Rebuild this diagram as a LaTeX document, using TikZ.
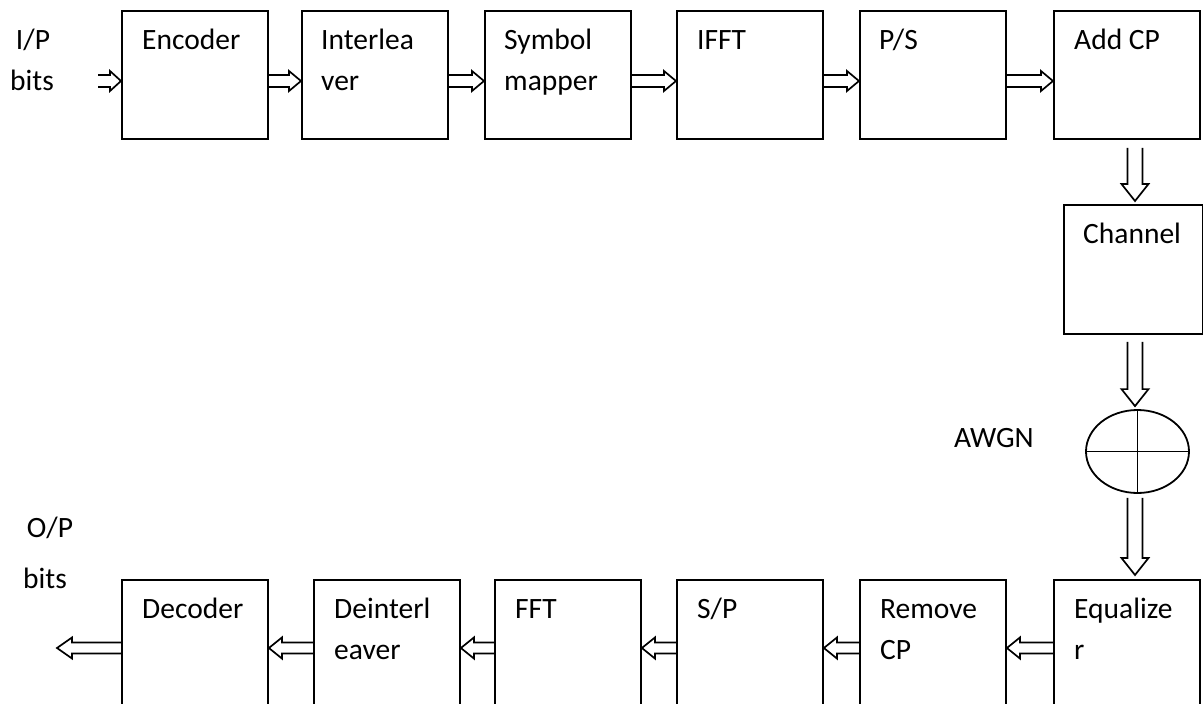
\documentclass[tikz,border=0pt]{standalone}
\usepackage{fontspec}
\setmainfont{Carlito}
\usetikzlibrary{calc,shapes.geometric}
\tikzset{
  box/.style={draw, line width=1.9pt, minimum width=146pt, minimum height=128pt, inner sep=0pt, anchor=north west},
  lbl/.style={font=\fontsize{29.5}{34}\selectfont, inner sep=0pt, anchor=base west},
  tlbl/.style={font=\fontsize{29.5}{34}\selectfont, inner sep=0pt, anchor=base},
  blk/.style={draw, line width=1.7pt, line join=miter}
}
% right-pointing hollow arrow: #1 tail, #2 tip, #3 y, #4 head length
\newcommand\rarw[4]{\draw[blk] let \p1=(#1), \p2=(#2) in
  (\x1,#3pt+6pt) -- (\x2-#4pt,#3pt+6pt) -- (\x2-#4pt,#3pt+10pt) -- (\x2,#3pt)
  -- (\x2-#4pt,#3pt-10pt) -- (\x2-#4pt,#3pt-6pt) -- (\x1,#3pt-6pt);}
% left-pointing hollow arrow
\newcommand\larw[4]{\draw[blk] let \p1=(#1), \p2=(#2) in
  (\x1,#3pt+5.5pt) -- (\x2+#4pt,#3pt+5.5pt) -- (\x2+#4pt,#3pt+10.5pt) -- (\x2,#3pt)
  -- (\x2+#4pt,#3pt-10.5pt) -- (\x2+#4pt,#3pt-5.5pt) -- (\x1,#3pt-5.5pt);}
% down-pointing hollow arrow: #1 tail, #2 tip, #3 x, #4 gap at tail, #5 gap at tip
\newcommand\darw[5]{\draw[blk] let \p1=(#1), \p2=(#2) in
  (#3pt-7.5pt,\y1-#4pt) -- (#3pt-7.5pt,\y2+#5pt+17pt) -- (#3pt-13.5pt,\y2+#5pt+17pt) -- (#3pt,\y2+#5pt)
  -- (#3pt+13.5pt,\y2+#5pt+17pt) -- (#3pt+7.5pt,\y2+#5pt+17pt) -- (#3pt+7.5pt,\y1-#4pt);}
\begin{document}
\begin{tikzpicture}[x=1pt,y=1pt]
\useasboundingbox (0,0) rectangle (1203,-704);
% top row
\node[box] (enc) at (121,-10) {};
\node[box] (int) at (301,-10) {};
\node[box] (sym) at (484,-10) {};
\node[box] (ifft) at (676,-10) {};
\node[box] (ps) at (859,-10) {};
\node[box] (acp) at (1053,-10) {};
% channel
\node[draw, line width=1.9pt, minimum width=139pt, minimum height=129pt, inner sep=0pt, anchor=north west] (chan) at (1063,-204) {};
% AWGN adder
\node[draw, ellipse, line width=1.8pt, minimum width=103pt, minimum height=83pt, inner sep=0pt] (add) at (1137.5,-451.5) {};
\draw[line width=1.8pt] (add.north) -- (add.south) (add.west) -- (add.east);
% bottom row
\node[box] (dec) at (121,-579) {};
\node[box] (dei) at (313,-579) {};
\node[box] (fft) at (494,-579) {};
\node[box] (sp) at (676,-579) {};
\node[box] (rcp) at (859,-579) {};
\node[box] (eq) at (1053,-579) {};
% labels
\node[tlbl] (ip1) at (33,-49) {I/P};
\node[tlbl] (ip2) at (32,-90) {bits};
\node[tlbl] (op1) at (50,-537) {O/P};
\node[tlbl] (op2) at (45,-588) {bits};
\node[lbl] (awgn) at (954,-447) {AWGN};
\node[lbl] at ([xshift=21pt,yshift=-39pt]enc.north west) {Encoder};
\node[lbl] at ([xshift=20pt,yshift=-39pt]int.north west) {Interlea};
\node[lbl] at ([xshift=20pt,yshift=-80pt]int.north west) {ver};
\node[lbl] at ([xshift=20pt,yshift=-39pt]sym.north west) {Symbol};
\node[lbl] at ([xshift=20pt,yshift=-80pt]sym.north west) {mapper};
\node[lbl] at ([xshift=21pt,yshift=-39pt]ifft.north west) {IFFT};
\node[lbl] at ([xshift=20pt,yshift=-39pt]ps.north west) {P/S};
\node[lbl] at ([xshift=21pt,yshift=-39pt]acp.north west) {Add CP};
\node[lbl] at ([xshift=20pt,yshift=-39pt]chan.north west) {Channel};
\node[lbl] at ([xshift=21pt,yshift=-39pt]dec.north west) {Decoder};
\node[lbl] at ([xshift=21pt,yshift=-39pt]dei.north west) {Deinterl};
\node[lbl] at ([xshift=21pt,yshift=-80pt]dei.north west) {eaver};
\node[lbl] at ([xshift=21pt,yshift=-39pt]fft.north west) {FFT};
\node[lbl] at ([xshift=21pt,yshift=-39pt]sp.north west) {S/P};
\node[lbl] at ([xshift=21pt,yshift=-39pt]rcp.north west) {Remove};
\node[lbl] at ([xshift=21pt,yshift=-80pt]rcp.north west) {CP};
\node[lbl] at ([xshift=21pt,yshift=-39pt]eq.north west) {Equalize};
\node[lbl] at ([xshift=21pt,yshift=-80pt]eq.north west) {r};
% free ends
\coordinate (in) at (98,-81);
\coordinate (out) at (57,-648);
% top arrows
\rarw{in}{enc.west}{-81}{11}
\rarw{enc.east}{int.west}{-81}{12}
\rarw{int.east}{sym.west}{-81}{12}
\rarw{sym.east}{ifft.west}{-81}{12}
\rarw{ifft.east}{ps.west}{-81}{12}
\rarw{ps.east}{acp.west}{-81}{12}
% vertical arrows
\darw{acp.south}{chan.north}{1135}{8}{3}
\darw{chan.south}{add.north}{1135}{7}{3}
\darw{add.south}{eq.north}{1135}{4}{4}
% bottom arrows
\larw{eq.west}{rcp.east}{-648}{13}
\larw{rcp.west}{sp.east}{-648}{13}
\larw{sp.west}{fft.east}{-648}{13}
\larw{fft.west}{dei.east}{-648}{13}
\larw{dei.west}{dec.east}{-648}{13}
\larw{dec.west}{out}{-648}{15}
\end{tikzpicture}
\end{document}
